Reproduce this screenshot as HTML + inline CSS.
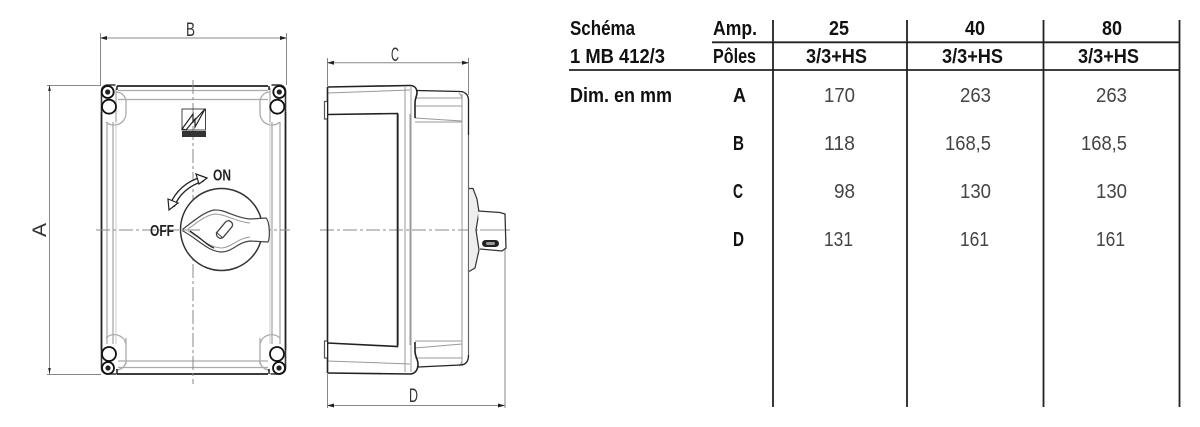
<!DOCTYPE html>
<html><head><meta charset="utf-8"><style>
html,body{margin:0;padding:0;background:#fff}
svg{display:block;filter:blur(0.35px)}
.b{font:bold 20px "Liberation Sans",sans-serif;fill:#111}
.r{font:20px "Liberation Sans",sans-serif;fill:#444}
.d{font:19px "Liberation Sans",sans-serif;fill:#333}
.s{font:bold 15.500px "Liberation Sans",sans-serif;fill:#222}
</style></head><body>
<svg width="1200" height="427" viewBox="0 0 1200 427" xmlns="http://www.w3.org/2000/svg" fill="none">
<!-- dimension lines -->
<g stroke="#888" stroke-width="1">
<path d="M100.500 33V85M286.500 33V85M100 38H287"/>
<path d="M47 85.500H101M47 374.500H101M49.500 85V374"/>
<path d="M327.500 58V86M468.500 58V95M327 62.700H469"/>
<path d="M327.500 374V408M505 240V408M327 405.500H505"/>
</g>
<g fill="#222">
<path d="M100 38l7-2v4zM287 38l-7-2v4zM327 62.700l7-2v4zM469 62.700l-7-2v4zM327 405.500l7-2v4zM505 405.500l-7-2v4z"/>
<path d="M49.500 85l-1.300 6h2.600zM49.500 374l-1.300-6h2.600z"/>
</g>
<text class="d" x="186" y="36" textLength="9" lengthAdjust="spacingAndGlyphs">B</text>
<text class="d" x="391" y="61" textLength="8" lengthAdjust="spacingAndGlyphs">C</text>
<text class="d" x="409" y="402" textLength="9" lengthAdjust="spacingAndGlyphs">D</text>
<text class="d" transform="translate(46,237) rotate(-90)" textLength="14" lengthAdjust="spacingAndGlyphs">A</text>

<!-- front inner lines -->
<g stroke="#aaa" stroke-width="1.300">
<path d="M107 122V344M113 122V344M272 122V344M280 122V344"/>
<path d="M118 90.500H268M118 99.500H268M118 361H268M118 367.500H268"/>
<path d="M116 88V122M126 103V114a12 12 0 0 1-20 8M270 88V122M260 103V114a12 12 0 0 0 20 8"/>
<path d="M126 344a12 12 0 0 0-20-6M126 338V364M260 344a12 12 0 0 1 20-6M260 338V364"/>
<path d="M116 92a10 10 0 0 1 10 11M270 92a10 10 0 0 0-10 11M116 370a10 10 0 0 0 10-8M270 370a10 10 0 0 1-10-8"/>
</g>
<g stroke="#ccc" stroke-width="1"><path d="M116 122V344M270 122V344"/></g>
<!-- front outline -->
<path d="M117 86H268M101.500 112V350M285.500 112V350M117 374H268" stroke="#222" stroke-width="1.800"/>
<path d="M117 86v4M269 86v4M117 374v-5M269 374v-5" stroke="#222" stroke-width="1.500"/>
<path d="M101.500 112V91a6 6 0 0 1 6-6h8M285.500 112V91a6 6 0 0 0-6-6h-8M101.500 350V368a6 6 0 0 0 6 6h9M285.500 350V368a6 6 0 0 1-6 6h-9" stroke="#333" stroke-width="1.600"/>
<!-- corner circles -->
<g fill="#fff" stroke="#111" stroke-width="1.800">
<circle cx="107.700" cy="92" r="6"/><circle cx="279.300" cy="92" r="6"/><circle cx="108" cy="368" r="6"/><circle cx="279" cy="368" r="6"/>
<circle cx="109" cy="106.700" r="7"/><circle cx="277.300" cy="106.700" r="7"/><circle cx="109" cy="354" r="7"/><circle cx="277" cy="354" r="7"/>
</g>
<g fill="#222"><circle cx="107.700" cy="92" r="2.600"/><circle cx="279.300" cy="92" r="2.600"/><circle cx="108" cy="368" r="2.600"/><circle cx="279" cy="368" r="2.600"/></g>
<!-- center lines -->
<path d="M193 80V384M96 230H290M320 230H510" stroke="#888" stroke-width="1" stroke-dasharray="14 3 3 3"/>
<!-- logo -->
<rect x="182" y="109" width="23.500" height="21" stroke="#444" stroke-width="1"/>
<rect x="182" y="131" width="24" height="6" fill="#333"/>
<path d="M182 129L193 114L193 122L205 109L195 127L195 119L186 130Z" fill="#fff" stroke="#222" stroke-width="1.200"/>
<!-- rotation arrow -->
<path d="M172 206C177 193 188 183 203 179" stroke="#222" stroke-width="6"/>
<path d="M172 206C177 193 188 183 203 179" stroke="#fff" stroke-width="3.400"/>
<path d="M169 210l-1-11 10 4zM207 178l-11-4 3 10z" fill="#fff" stroke="#222" stroke-width="1.200"/>
<text class="s" x="213" y="180.500" textLength="18" lengthAdjust="spacingAndGlyphs">ON</text>
<text class="s" x="150" y="236" textLength="24" lengthAdjust="spacingAndGlyphs">OFF</text>
<!-- knob -->
<circle cx="221.500" cy="229.500" r="41" fill="#fff" stroke="#333" stroke-width="1.500"/>
<path d="M183 229C195 220 204 212 214 210C225 209 235 218 250 219L266 218C270 222 270 238 268 242L250 241C238 242 232 252 222 252C208 252 198 239 183 231Z" fill="#fff" stroke="#444" stroke-width="1.200"/>
<path d="M188 229C198 222 206 215 215 214C226 214 236 222 250 223M188 231C200 238 210 248 222 248C232 247 238 238 250 237" stroke="#999" stroke-width="1"/>
<path d="M190 231L197 236C204 241 208 246 214 248" stroke="#222" stroke-width="1.200"/>
<path d="M183 230H200" stroke="#888" stroke-width="1"/>
<rect x="-4" y="-10" width="8" height="20" rx="3.500" transform="translate(224.500,229.500) rotate(40)" fill="#fff" stroke="#444" stroke-width="1.300"/>
<path d="M216 232l7 6" stroke="#444" stroke-width="1"/>

<!-- side view -->
<g stroke="#999" stroke-width="1">
<path d="M327 93L410 90M327 361L410 364"/>
<path d="M405 87V372M411 87V372"/>
<path d="M415 98H462M415 106H462M415 118L462 121M415 122H462M415 341H462M415 348L462 344M415 358H462"/>
<path d="M462 94V366M410 114V345M398.500 114V345"/>
<path d="M459 93a9 9 0 0 1 3 8M459 366a9 9 0 0 0 3-8"/>
</g>
<g stroke="#222" stroke-width="1.600">
<path d="M327.500 87V373M327.500 87L410 85.500C415 85.500 417 89 417 93C417 95 415 99 415 103V118"/>
<path d="M327.500 373L410 374C415 374 418 370 418 364C418 360 415 356 415 351V342"/>
<path d="M327.500 114.500L397.500 113.500V346.500L327.500 343"/>
<path d="M417 90.500L460 91.500C465 91.500 468.500 95 468.500 100V135" stroke-width="1.300"/>
<path d="M418 367L460 365C466 365 468.500 361 468.500 355" stroke-width="1.300"/>
</g>
<path d="M468.500 135V355" stroke="#666" stroke-width="1.200"/>
<path d="M327 101.500H324.500V119H327M327 341H324.500V358H327" fill="#fff" stroke="#555" stroke-width="1.200"/>
<!-- side knob -->
<path d="M469 188.500H473L477 199L479 212L476 230L479 250L475 268L469 271.500" fill="#eee" stroke="#333" stroke-width="1.200"/>
<path d="M478 211L500 212.500L505 214L506 248L502 251L480 249" fill="#fff" stroke="#333" stroke-width="1.300"/>
<path d="M480 230H505" stroke="#999"/>
<rect x="482" y="240" width="17" height="7" rx="3.500" fill="#222"/>
<rect x="486" y="242" width="9" height="3" rx="1.500" fill="#999"/>

<!-- table lines -->
<g stroke="#222" stroke-width="1.800">
<path d="M773 20V407M907 20V407M1043.500 20V407M1179.500 20V407"/>
<path d="M712 42.300H1179M569 70H1179"/>
</g>
<!-- table text -->
<text class="b" x="570" y="35" textLength="65" lengthAdjust="spacingAndGlyphs">Schéma</text>
<text class="b" x="570" y="63" textLength="95" lengthAdjust="spacingAndGlyphs">1 MB 412/3</text>
<text class="b" x="713" y="35" textLength="44" lengthAdjust="spacingAndGlyphs">Amp.</text>
<text class="b" x="713" y="63" textLength="43" lengthAdjust="spacingAndGlyphs">Pôles</text>
<text class="b" x="570" y="102" textLength="102" lengthAdjust="spacingAndGlyphs">Dim. en mm</text>
<text class="b" x="829" y="35" textLength="20" lengthAdjust="spacingAndGlyphs">25</text>
<text class="b" x="965" y="35" textLength="20" lengthAdjust="spacingAndGlyphs">40</text>
<text class="b" x="1102" y="35" textLength="20" lengthAdjust="spacingAndGlyphs">80</text>
<text class="b" x="806" y="63" textLength="61" lengthAdjust="spacingAndGlyphs">3/3+HS</text>
<text class="b" x="942" y="63" textLength="61" lengthAdjust="spacingAndGlyphs">3/3+HS</text>
<text class="b" x="1078" y="63" textLength="61" lengthAdjust="spacingAndGlyphs">3/3+HS</text>
<text class="b" x="733" y="102" textLength="13" lengthAdjust="spacingAndGlyphs">A</text>
<text class="b" x="733" y="150" textLength="11" lengthAdjust="spacingAndGlyphs">B</text>
<text class="b" x="733" y="198" textLength="10" lengthAdjust="spacingAndGlyphs">C</text>
<text class="b" x="733" y="246" textLength="11" lengthAdjust="spacingAndGlyphs">D</text>
<text class="r" x="824" y="102" textLength="31" lengthAdjust="spacingAndGlyphs">170</text>
<text class="r" x="960" y="102" textLength="31" lengthAdjust="spacingAndGlyphs">263</text>
<text class="r" x="1096" y="102" textLength="31" lengthAdjust="spacingAndGlyphs">263</text>
<text class="r" x="824" y="150" textLength="31" lengthAdjust="spacingAndGlyphs">118</text>
<text class="r" x="945" y="150" textLength="46" lengthAdjust="spacingAndGlyphs">168,5</text>
<text class="r" x="1081" y="150" textLength="46" lengthAdjust="spacingAndGlyphs">168,5</text>
<text class="r" x="834" y="198" textLength="21" lengthAdjust="spacingAndGlyphs">98</text>
<text class="r" x="960" y="198" textLength="31" lengthAdjust="spacingAndGlyphs">130</text>
<text class="r" x="1096" y="198" textLength="31" lengthAdjust="spacingAndGlyphs">130</text>
<text class="r" x="824" y="246" textLength="29" lengthAdjust="spacingAndGlyphs">131</text>
<text class="r" x="960" y="246" textLength="29" lengthAdjust="spacingAndGlyphs">161</text>
<text class="r" x="1096" y="246" textLength="29" lengthAdjust="spacingAndGlyphs">161</text>
</svg>
</body></html>
